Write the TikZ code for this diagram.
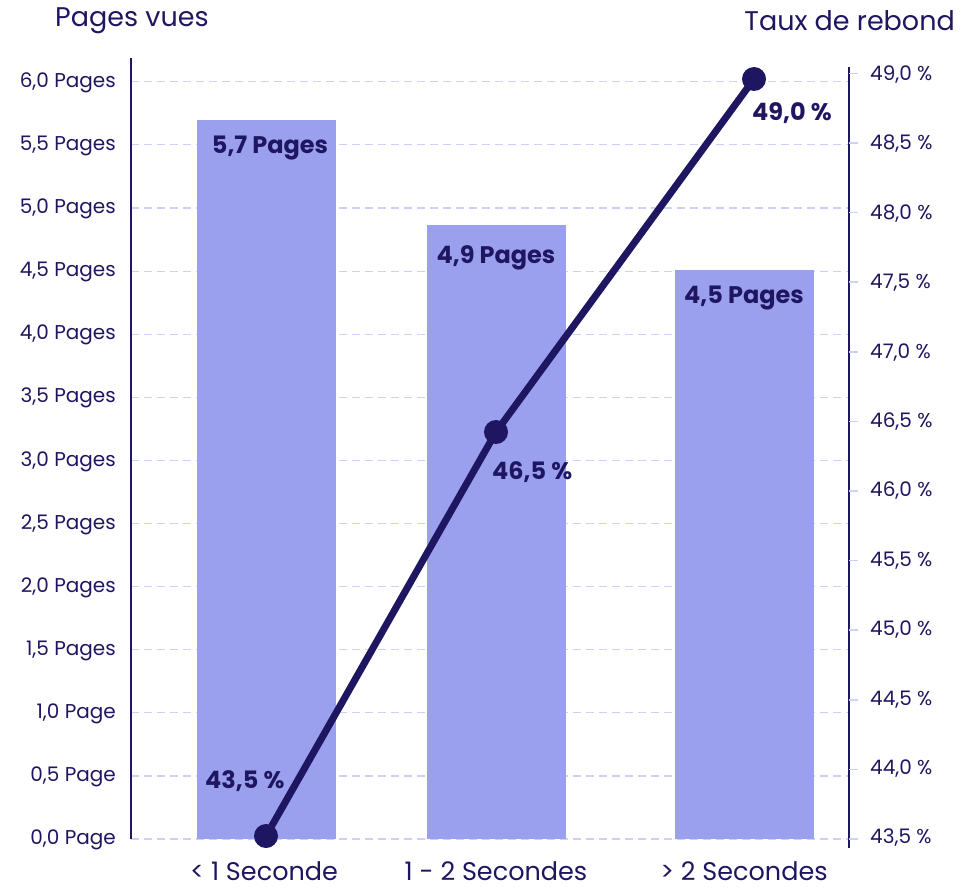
\documentclass[tikz,border=0pt]{standalone}
\usepackage{fontspec}
\setmainfont{Poppins}
\usepackage{xcolor}
\usepackage{tikz}
\usetikzlibrary{positioning, calc}
\definecolor{navy}{RGB}{31,22,98}
\definecolor{barblue}{RGB}{154,160,238}
\definecolor{gridlav}{RGB}{205,208,247}

\tikzset{
  ticklabel/.style={text=navy, font=\fontsize{20}{20}\selectfont, inner sep=0pt},
  axistitle/.style={text=navy, font=\fontsize{27}{27}\selectfont, inner sep=0pt},
  barlabel/.style={text=navy, font=\fontsize{24}{24}\selectfont\bfseries, inner sep=0pt},
  catlabel/.style={text=navy, font=\fontsize{25.5}{25.5}\selectfont, inner sep=0pt, text depth=0pt, anchor=base},
  dot/.style={circle, fill=navy, minimum size=24pt, inner sep=0pt},
  gridline/.style={gridlav, line width=1.2pt, dash pattern=on 8pt off 5pt},
}

\begin{document}
\begin{tikzpicture}[x=1pt, y=-1pt]
\useasboundingbox (0,0) rectangle (964,888);

% grid lines (left scale)
\foreach \i in {0,...,12}
  \draw[gridline] (131,839-\i*63.1) -- (849,839-\i*63.1);

% bars
\fill[barblue] (197,839) rectangle (336,120);
\fill[barblue] (427,839) rectangle (566,225);
\fill[barblue] (675,839) rectangle (814,270);

% axes
\draw[navy, line width=1.2pt] (131,58) -- (131,839);
\draw[navy, line width=1.2pt] (849,67) -- (849,848);

% left scale
\foreach \i/\t in {0/{0,0 Page},1/{0,5 Page},2/{1,0 Page},3/{1,5 Pages},4/{2,0 Pages},5/{2,5 Pages},6/{3,0 Pages},7/{3,5 Pages},8/{4,0 Pages},9/{4,5 Pages},10/{5,0 Pages},11/{5,5 Pages},12/{6,0 Pages}}
  \node[ticklabel, anchor=east] (l\i) at (116,840-\i*63.1) {\t};

% right scale
\foreach \i/\t in {0/{43,5 \%},1/{44,0 \%},2/{44,5 \%},3/{45,0 \%},4/{45,5 \%},5/{46,0 \%},6/{46,5 \%},7/{47,0 \%},8/{47,5 \%},9/{48,0 \%},10/{48,5 \%},11/{49,0 \%}}{
  \draw[gridlav, line width=1.5pt] (849,839-\i*69.6) -- (858,839-\i*69.6);
  \node[ticklabel, anchor=west] (r\i) at (870,838-\i*69.4) {\t};
}

% axis titles
\node[axistitle, anchor=west] (ltitle) at (55,21) {Pages vues};
\node[axistitle, anchor=east] (rtitle) at (955,21) {Taux de rebond};

% bar values
\node[barlabel] (v1) at (270,148) {5,7 Pages};
\node[barlabel] (v2) at (496,258) {4,9 Pages};
\node[barlabel] (v3) at (744,298) {4,5 Pages};

% categories
\node[catlabel] (c1) at (264,880) {< 1 Seconde};
\node[catlabel] (c2) at (496,880) {1 - 2 Secondes};
\node[catlabel] (c3) at (744,880) {> 2 Secondes};

% bounce rate line
\node[dot] (p1) at (266,836) {};
\node[dot] (p2) at (496,432) {};
\node[dot] (p3) at (754,79) {};
\draw[navy, line width=7pt] (p1.center) -- (p2.center) -- (p3.center);

\node[barlabel, anchor=west] (b1) at (205,781) {43,5 \%};
\node[barlabel, anchor=west] (b2) at (492,472) {46,5 \%};
\node[barlabel, anchor=west] (b3) at (752,113) {49,0 \%};
\end{tikzpicture}
\end{document}
